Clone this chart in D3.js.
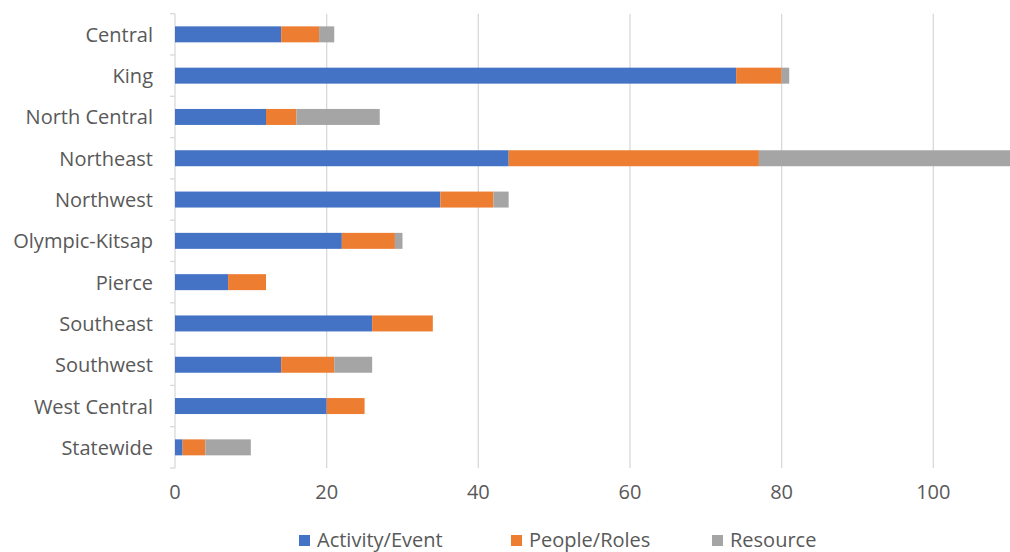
<!DOCTYPE html>
<html>
<head>
<meta charset="utf-8">
<script src="https://cdn.jsdelivr.net/npm/d3@7"></script>
<style>
  html, body { margin: 0; padding: 0; background: #fff; }
  svg { display: block; }
  text { font-family: "Open Sans", Lato, sans-serif; fill: #595959; }
</style>
</head>
<body>
<svg id="chart" width="1010" height="552"></svg>
<script>
// Regions and counts per content type
const regions = ["Central", "King", "North Central", "Northeast", "Northwest",
  "Olympic-Kitsap", "Pierce", "Southeast", "Southwest", "West Central", "Statewide"];
const activityEvent = [14, 74, 12, 44, 35, 22, 7, 26, 14, 20, 1];
const peopleRoles   = [5, 6, 4, 33, 7, 7, 5, 8, 7, 5, 3];
const resource      = [2, 1, 11, 36, 2, 1, 0, 0, 5, 0, 6];
const seriesNames = ["Activity/Event", "People/Roles", "Resource"];
const xTicks = [0, 20, 40, 60, 80, 100];

const colors = ["#4472C4", "#ED7D31", "#A5A5A5"];

const svg = d3.select("#chart");
const W = 1010, H = 552;
const m = { left: 175, top: 13.7, bottom: 468 };

const rows = regions.map((r, i) => ({
  region: r,
  "Activity/Event": activityEvent[i],
  "People/Roles": peopleRoles[i],
  "Resource": resource[i]
}));
const stacked = d3.stack().keys(seriesNames)(rows);

// Value scale runs past the right edge of the drawing, which clips it
const x = d3.scaleLinear().domain([0, 120]).range([m.left, m.left + 120 * 7.583]);
const y = d3.scaleBand().domain(regions).range([m.top, m.bottom]).paddingInner(0.613).paddingOuter(0.3065);

svg.append("defs").append("clipPath").attr("id", "plotclip")
  .append("rect").attr("x", 0).attr("y", 0).attr("width", W).attr("height", H);

// Vertical gridlines
svg.append("g").selectAll("line").data(xTicks.filter(d => d > 0)).join("line")
  .attr("x1", d => x(d)).attr("x2", d => x(d))
  .attr("y1", m.top).attr("y2", m.bottom)
  .attr("stroke", "#d9d9d9").attr("stroke-width", 1.3);

// Category axis line with boundary ticks
const band = y.step();
svg.append("line").attr("x1", m.left).attr("x2", m.left)
  .attr("y1", m.top).attr("y2", m.bottom)
  .attr("stroke", "#d9d9d9").attr("stroke-width", 1.3);
svg.append("g").selectAll("line").data(d3.range(regions.length + 1)).join("line")
  .attr("x1", m.left - 5).attr("x2", m.left)
  .attr("y1", i => m.top + i * band).attr("y2", i => m.top + i * band)
  .attr("stroke", "#d9d9d9").attr("stroke-width", 1.3);

// Stacked bars
svg.append("g").attr("clip-path", "url(#plotclip)")
  .selectAll("g").data(stacked).join("g")
  .attr("fill", (d, i) => colors[i])
  .selectAll("rect").data(d => d).join("rect")
  .attr("x", d => x(d[0]))
  .attr("width", d => x(d[1]) - x(d[0]))
  .attr("y", d => y(d.data.region))
  .attr("height", y.bandwidth());

// Category labels
svg.append("g").selectAll("text").data(regions).join("text")
  .attr("x", 153).attr("y", d => y(d) + y.bandwidth() / 2)
  .attr("text-anchor", "end").attr("dominant-baseline", "central")
  .style("font-size", "20px")
  .text(d => d);

// Value axis labels
svg.append("g").selectAll("text").data(xTicks).join("text")
  .attr("x", d => x(d)).attr("y", 499)
  .attr("text-anchor", "middle")
  .style("font-size", "20px")
  .text(d => d);

// Legend
const legendX = [299, 511, 712];
const lg = svg.append("g").selectAll("g").data(seriesNames).join("g")
  .attr("transform", (d, i) => `translate(${legendX[i]},0)`);
lg.append("rect").attr("x", 0).attr("y", 535).attr("width", 11).attr("height", 11)
  .attr("fill", (d, i) => colors[i]);
lg.append("text").attr("x", 18).attr("y", 547)
  .style("font-size", "20px")
  .text(d => d);
</script>
</body>
</html>
